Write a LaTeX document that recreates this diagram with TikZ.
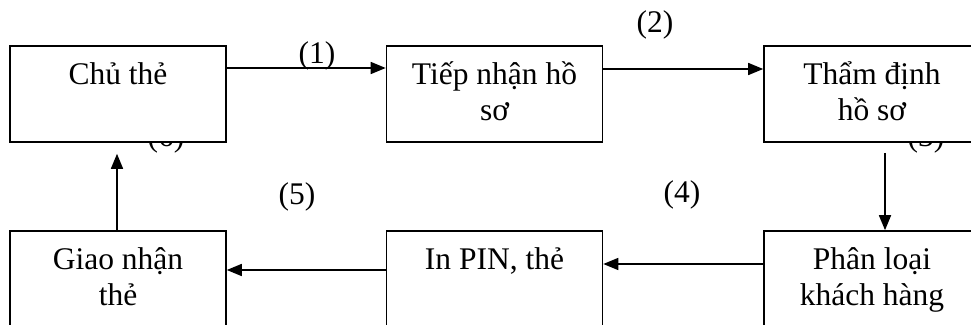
\documentclass[tikz,border=0pt]{standalone}
\usepackage{fontspec}
\setmainfont{Liberation Serif}
\usetikzlibrary{arrows.meta}
\newcommand{\firstline}{\rule{0pt}{31pt}}
\begin{document}
\begin{tikzpicture}[x=1pt,y=1pt,
  box/.style={draw, fill=white, line width=1.6pt, minimum width=216pt,
              minimum height=96pt, inner sep=0pt},
  txt/.style={font=\fontsize{31.5}{36}\selectfont, align=center,
              inner sep=0pt, anchor=north},
  lbl/.style={font=\fontsize{31.5}{36}\selectfont, inner sep=0pt},
  flow/.style={line width=1.6pt, -{Triangle[length=15pt,width=12pt]}}]
\useasboundingbox (0,0) rectangle (971,-324);
\clip (0,0) rectangle (971,-324);

% step labels partly covered by the boxes
\node[lbl] (l6) at (166,-139) {(6)};
\node[lbl] (l3) at (926,-139) {(3)};

% process boxes
\node[box] (b1) at (118,-94) {};
\node[box] (b2) at (494.5,-94) {};
\node[box] (b3) at (872,-94) {};
\node[box] (b4) at (118,-279) {};
\node[box] (b5) at (494.5,-279) {};
\node[box] (b6) at (872,-279) {};

% box captions
\node[txt] (t1) at ([yshift=-8pt]b1.north) {\firstline Chủ thẻ};
\node[txt] (t2) at ([yshift=-8pt]b2.north) {\firstline Tiếp nhận hồ\\sơ};
\node[txt] (t3) at ([yshift=-8pt]b3.north) {\firstline Thẩm định\\hồ sơ};
\node[txt] (t4) at ([yshift=-8pt]b4.north) {\firstline Giao nhận\\thẻ};
\node[txt] (t5) at ([yshift=-8pt]b5.north) {\firstline In PIN, thẻ};
\node[txt] (t6) at ([yshift=-8pt]b6.north) {\firstline Phân loại\\khách hàng};

% connectors
\draw[flow] ([yshift=26pt]b1.east) -- ([yshift=26pt]b2.west);
\draw[flow] ([yshift=25pt]b2.east) -- ([yshift=25pt]b3.west);
\draw[flow] ([xshift=13pt,yshift=-10pt]b3.south) -- ([xshift=13pt]b6.north);
\draw[flow] ([yshift=15pt]b6.west) -- ([yshift=15pt]b5.east);
\draw[flow] ([yshift=9pt]b5.west) -- ([yshift=9pt]b4.east);
\draw[flow] ([xshift=-1pt]b4.north) -- ([xshift=-1pt,yshift=-11pt]b1.south);

% step labels
\node[lbl] (l1) at (317,-56) {(1)};
\node[lbl] (l2) at (655,-25) {(2)};
\node[lbl] (l4) at (682,-195) {(4)};
\node[lbl] (l5) at (297,-197) {(5)};
\end{tikzpicture}
\end{document}
